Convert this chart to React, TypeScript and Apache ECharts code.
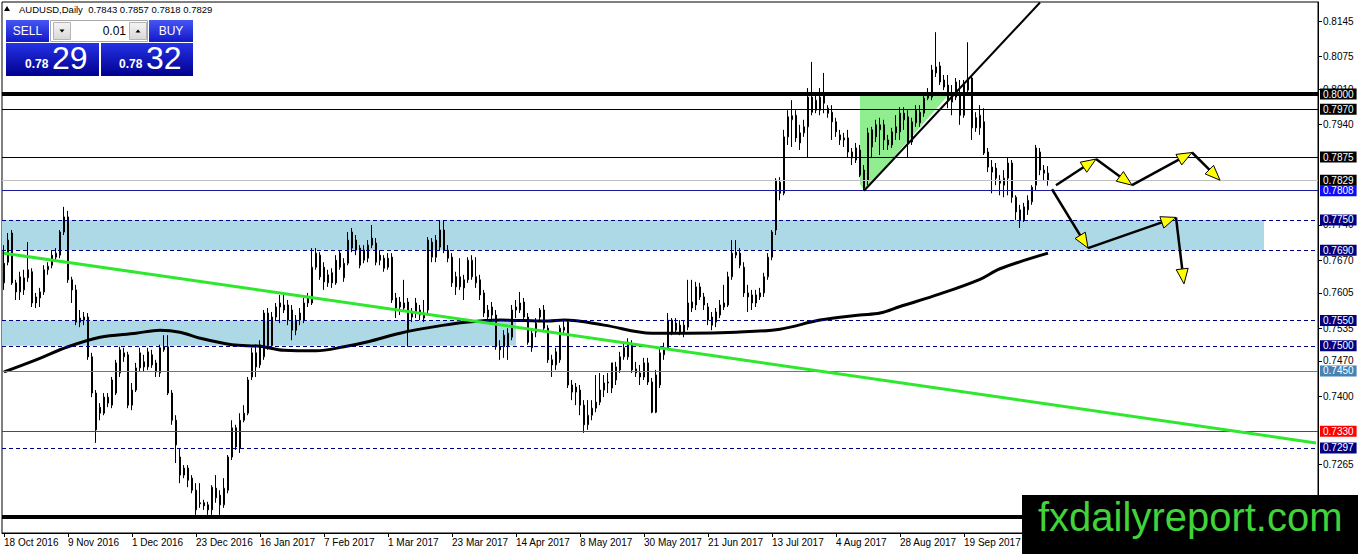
import React, { useEffect, useRef } from "react";
import * as echarts from "echarts";

// ---------- text ----------
const SYMBOL_TEXT = "AUDUSD,Daily";
const LAST_OHLC = ["0.7843", "0.7857", "0.7818", "0.7829"];
const PRICE_PREFIX = "0.78";
const BID_PIPS = "29";
const ASK_PIPS = "32";
const LOT_SIZE = "0.01";
const WATERMARK = "fxdailyreport.com";

// ---------- calendar ----------
const MONTHS = ["Jan", "Feb", "Mar", "Apr", "May", "Jun", "Jul", "Aug", "Sep", "Oct", "Nov", "Dec"];
const FIRST_BAR = [2016, 9, 18];
const TOTAL_SLOTS = 329; // trading days incl. empty space to the right
const DATE_TICK_STEP = 16;
const LAST_DATE_TICK = 240;

// ---------- candles: [open, close, low, high] ----------
const candles: number[][] = [
  [0.7664, 0.7625, 0.7611, 0.7700], [0.7666, 0.7710, 0.7660, 0.7724], [0.7724, 0.7625, 0.7621, 0.7730], [0.7625, 0.7607, 0.7591, 0.7631],
  [0.7607, 0.7637, 0.7591, 0.7647], [0.7611, 0.7635, 0.7601, 0.7651], [0.7635, 0.7651, 0.7627, 0.7706], [0.7647, 0.7585, 0.7577, 0.7654],
  [0.7597, 0.7585, 0.7575, 0.7605], [0.7595, 0.7607, 0.7577, 0.7615], [0.7607, 0.7651, 0.7601, 0.7660], [0.7651, 0.7658, 0.7641, 0.7666],
  [0.7660, 0.7680, 0.7654, 0.7690], [0.7676, 0.7684, 0.7670, 0.7694], [0.7680, 0.7726, 0.7674, 0.7730], [0.7726, 0.7756, 0.7720, 0.7776],
  [0.7756, 0.7631, 0.7625, 0.7768], [0.7631, 0.7611, 0.7585, 0.7637], [0.7611, 0.7547, 0.7541, 0.7621], [0.7547, 0.7555, 0.7537, 0.7571],
  [0.7557, 0.7551, 0.7541, 0.7567], [0.7557, 0.7478, 0.7472, 0.7565], [0.7478, 0.7406, 0.7398, 0.7486], [0.7406, 0.7333, 0.7307, 0.7412],
  [0.7366, 0.7378, 0.7352, 0.7386], [0.7366, 0.7398, 0.7362, 0.7406], [0.7386, 0.7398, 0.7378, 0.7406], [0.7382, 0.7432, 0.7376, 0.7438],
  [0.7406, 0.7466, 0.7402, 0.7472], [0.7446, 0.7492, 0.7438, 0.7498], [0.7478, 0.7486, 0.7468, 0.7496], [0.7482, 0.7382, 0.7376, 0.7488],
  [0.7382, 0.7412, 0.7372, 0.7426], [0.7412, 0.7456, 0.7408, 0.7466], [0.7456, 0.7486, 0.7448, 0.7496], [0.7468, 0.7458, 0.7448, 0.7482],
  [0.7458, 0.7488, 0.7452, 0.7496], [0.7482, 0.7462, 0.7456, 0.7492], [0.7466, 0.7448, 0.7438, 0.7472], [0.7446, 0.7496, 0.7438, 0.7502],
  [0.7492, 0.7498, 0.7488, 0.7521], [0.7498, 0.7406, 0.7402, 0.7521], [0.7406, 0.7352, 0.7343, 0.7412], [0.7352, 0.7303, 0.7267, 0.7362],
  [0.7279, 0.7243, 0.7227, 0.7297], [0.7243, 0.7257, 0.7237, 0.7263], [0.7257, 0.7233, 0.7219, 0.7263], [0.7237, 0.7213, 0.7207, 0.7243],
  [0.7213, 0.7174, 0.7164, 0.7227], [0.7188, 0.7186, 0.7178, 0.7227], [0.7188, 0.7182, 0.7174, 0.7194], [0.7184, 0.7174, 0.7164, 0.7190],
  [0.7174, 0.7219, 0.7164, 0.7223], [0.7217, 0.7198, 0.7188, 0.7243], [0.7203, 0.7184, 0.7164, 0.7213], [0.7184, 0.7217, 0.7178, 0.7237],
  [0.7213, 0.7279, 0.7207, 0.7283], [0.7279, 0.7337, 0.7273, 0.7352], [0.7337, 0.7299, 0.7293, 0.7343], [0.7297, 0.7352, 0.7287, 0.7366],
  [0.7352, 0.7366, 0.7348, 0.7382], [0.7366, 0.7432, 0.7362, 0.7438], [0.7438, 0.7486, 0.7432, 0.7496], [0.7486, 0.7458, 0.7438, 0.7502],
  [0.7462, 0.7502, 0.7456, 0.7511], [0.7478, 0.7565, 0.7472, 0.7571], [0.7565, 0.7500, 0.7492, 0.7575], [0.7500, 0.7557, 0.7492, 0.7567],
  [0.7557, 0.7577, 0.7551, 0.7585], [0.7577, 0.7585, 0.7545, 0.7601], [0.7571, 0.7581, 0.7565, 0.7601], [0.7581, 0.7551, 0.7541, 0.7591],
  [0.7571, 0.7531, 0.7511, 0.7581], [0.7551, 0.7531, 0.7521, 0.7561], [0.7551, 0.7565, 0.7541, 0.7575], [0.7551, 0.7585, 0.7545, 0.7595],
  [0.7585, 0.7597, 0.7577, 0.7605], [0.7585, 0.7656, 0.7581, 0.7694], [0.7656, 0.7684, 0.7651, 0.7694], [0.7680, 0.7637, 0.7631, 0.7686],
  [0.7656, 0.7627, 0.7611, 0.7666], [0.7625, 0.7641, 0.7617, 0.7651], [0.7645, 0.7625, 0.7615, 0.7654], [0.7625, 0.7670, 0.7621, 0.7680],
  [0.7656, 0.7684, 0.7651, 0.7690], [0.7635, 0.7664, 0.7627, 0.7674], [0.7664, 0.7710, 0.7660, 0.7726], [0.7694, 0.7726, 0.7686, 0.7734],
  [0.7710, 0.7690, 0.7680, 0.7720], [0.7694, 0.7660, 0.7654, 0.7700], [0.7670, 0.7690, 0.7664, 0.7700], [0.7674, 0.7700, 0.7666, 0.7710],
  [0.7700, 0.7714, 0.7694, 0.7740], [0.7704, 0.7666, 0.7660, 0.7714], [0.7680, 0.7670, 0.7660, 0.7690], [0.7674, 0.7654, 0.7647, 0.7680],
  [0.7656, 0.7674, 0.7651, 0.7684], [0.7676, 0.7591, 0.7585, 0.7684], [0.7595, 0.7575, 0.7555, 0.7605], [0.7587, 0.7577, 0.7561, 0.7597],
  [0.7575, 0.7585, 0.7567, 0.7631], [0.7587, 0.7531, 0.7498, 0.7595], [0.7557, 0.7565, 0.7547, 0.7575], [0.7565, 0.7585, 0.7555, 0.7595],
  [0.7561, 0.7571, 0.7551, 0.7581], [0.7555, 0.7565, 0.7547, 0.7591], [0.7571, 0.7710, 0.7565, 0.7716], [0.7676, 0.7706, 0.7666, 0.7714],
  [0.7710, 0.7676, 0.7666, 0.7720], [0.7696, 0.7730, 0.7690, 0.7748], [0.7730, 0.7690, 0.7684, 0.7748], [0.7690, 0.7674, 0.7666, 0.7700],
  [0.7676, 0.7625, 0.7617, 0.7684], [0.7637, 0.7617, 0.7601, 0.7647], [0.7617, 0.7637, 0.7611, 0.7674], [0.7631, 0.7615, 0.7591, 0.7641],
  [0.7631, 0.7670, 0.7625, 0.7676], [0.7637, 0.7670, 0.7631, 0.7680], [0.7637, 0.7625, 0.7615, 0.7676], [0.7631, 0.7601, 0.7591, 0.7641],
  [0.7605, 0.7565, 0.7557, 0.7611], [0.7571, 0.7557, 0.7547, 0.7581], [0.7561, 0.7577, 0.7551, 0.7587], [0.7561, 0.7498, 0.7492, 0.7571],
  [0.7498, 0.7492, 0.7472, 0.7511], [0.7498, 0.7521, 0.7476, 0.7531], [0.7498, 0.7525, 0.7472, 0.7535], [0.7517, 0.7571, 0.7511, 0.7581],
  [0.7571, 0.7577, 0.7555, 0.7591], [0.7571, 0.7585, 0.7565, 0.7607], [0.7587, 0.7557, 0.7547, 0.7595], [0.7557, 0.7507, 0.7502, 0.7565],
  [0.7496, 0.7525, 0.7488, 0.7535], [0.7527, 0.7545, 0.7517, 0.7555], [0.7557, 0.7571, 0.7551, 0.7575], [0.7571, 0.7535, 0.7527, 0.7581],
  [0.7535, 0.7472, 0.7466, 0.7541], [0.7472, 0.7462, 0.7438, 0.7482], [0.7462, 0.7488, 0.7452, 0.7496], [0.7472, 0.7535, 0.7466, 0.7541],
  [0.7531, 0.7537, 0.7521, 0.7551], [0.7547, 0.7422, 0.7416, 0.7553], [0.7422, 0.7408, 0.7392, 0.7432], [0.7408, 0.7418, 0.7382, 0.7426],
  [0.7412, 0.7382, 0.7362, 0.7422], [0.7382, 0.7343, 0.7327, 0.7392], [0.7343, 0.7362, 0.7333, 0.7392], [0.7362, 0.7376, 0.7352, 0.7392],
  [0.7376, 0.7388, 0.7368, 0.7442], [0.7388, 0.7412, 0.7382, 0.7446], [0.7412, 0.7426, 0.7398, 0.7442], [0.7426, 0.7428, 0.7406, 0.7446],
  [0.7416, 0.7466, 0.7406, 0.7466], [0.7432, 0.7458, 0.7422, 0.7468], [0.7452, 0.7478, 0.7446, 0.7488], [0.7478, 0.7496, 0.7472, 0.7506],
  [0.7478, 0.7507, 0.7472, 0.7515], [0.7502, 0.7452, 0.7446, 0.7511], [0.7454, 0.7446, 0.7438, 0.7468], [0.7446, 0.7438, 0.7422, 0.7462],
  [0.7438, 0.7466, 0.7432, 0.7476], [0.7466, 0.7428, 0.7422, 0.7476], [0.7428, 0.7368, 0.7366, 0.7436], [0.7368, 0.7442, 0.7366, 0.7452],
  [0.7422, 0.7486, 0.7416, 0.7496], [0.7482, 0.7496, 0.7472, 0.7506], [0.7496, 0.7551, 0.7492, 0.7565], [0.7527, 0.7551, 0.7521, 0.7555],
  [0.7545, 0.7531, 0.7525, 0.7555], [0.7541, 0.7527, 0.7521, 0.7551], [0.7525, 0.7541, 0.7517, 0.7551], [0.7537, 0.7585, 0.7531, 0.7631],
  [0.7587, 0.7575, 0.7567, 0.7631], [0.7581, 0.7617, 0.7571, 0.7627], [0.7617, 0.7597, 0.7591, 0.7625], [0.7597, 0.7581, 0.7571, 0.7605],
  [0.7577, 0.7551, 0.7541, 0.7585], [0.7557, 0.7541, 0.7531, 0.7567], [0.7547, 0.7567, 0.7537, 0.7575], [0.7561, 0.7581, 0.7555, 0.7591],
  [0.7577, 0.7585, 0.7571, 0.7621], [0.7581, 0.7637, 0.7577, 0.7647], [0.7637, 0.7684, 0.7631, 0.7710], [0.7680, 0.7686, 0.7674, 0.7710],
  [0.7684, 0.7660, 0.7654, 0.7694], [0.7656, 0.7605, 0.7597, 0.7666], [0.7605, 0.7597, 0.7567, 0.7621], [0.7601, 0.7585, 0.7571, 0.7611],
  [0.7585, 0.7601, 0.7577, 0.7611], [0.7597, 0.7605, 0.7591, 0.7615], [0.7605, 0.7637, 0.7597, 0.7645], [0.7637, 0.7676, 0.7631, 0.7684],
  [0.7676, 0.7726, 0.7670, 0.7730], [0.7730, 0.7829, 0.7720, 0.7833], [0.7825, 0.7803, 0.7789, 0.7835], [0.7803, 0.7915, 0.7799, 0.7929],
  [0.7915, 0.7955, 0.7899, 0.7968], [0.7949, 0.7957, 0.7895, 0.7988], [0.7958, 0.7913, 0.7905, 0.7968], [0.7903, 0.7923, 0.7889, 0.7939],
  [0.7923, 0.7935, 0.7915, 0.7949], [0.7935, 0.7994, 0.7875, 0.8012], [0.7994, 0.7964, 0.7958, 0.8064], [0.7968, 0.7988, 0.7962, 0.7998],
  [0.7968, 0.7994, 0.7958, 0.8012], [0.7998, 0.7982, 0.7962, 0.8042], [0.7972, 0.7962, 0.7953, 0.7978], [0.7964, 0.7945, 0.7909, 0.7978],
  [0.7945, 0.7925, 0.7915, 0.7953], [0.7919, 0.7909, 0.7899, 0.7929], [0.7909, 0.7913, 0.7895, 0.7923], [0.7913, 0.7885, 0.7875, 0.7929],
  [0.7885, 0.7873, 0.7859, 0.7893], [0.7869, 0.7893, 0.7863, 0.7903], [0.7889, 0.7839, 0.7835, 0.7899], [0.7849, 0.7813, 0.7808, 0.7859],
  [0.7829, 0.7923, 0.7819, 0.7933], [0.7895, 0.7929, 0.7875, 0.7935], [0.7915, 0.7939, 0.7905, 0.7949], [0.7929, 0.7939, 0.7879, 0.7953],
  [0.7939, 0.7909, 0.7889, 0.7949], [0.7909, 0.7899, 0.7889, 0.7919], [0.7899, 0.7925, 0.7893, 0.7933], [0.7923, 0.7935, 0.7909, 0.7958],
  [0.7925, 0.7962, 0.7909, 0.7974], [0.7962, 0.7949, 0.7929, 0.7974], [0.7903, 0.7955, 0.7873, 0.7968], [0.7905, 0.7945, 0.7899, 0.7953],
  [0.7943, 0.7968, 0.7935, 0.7978], [0.7943, 0.7964, 0.7935, 0.7978], [0.7962, 0.7992, 0.7955, 0.8002], [0.7992, 0.7998, 0.7988, 0.8012],
  [0.7994, 0.8048, 0.7988, 0.8058], [0.8042, 0.8054, 0.8034, 0.8123], [0.8056, 0.8024, 0.8018, 0.8064], [0.8028, 0.8014, 0.8008, 0.8038],
  [0.8018, 0.7988, 0.7972, 0.8038], [0.7984, 0.7998, 0.7958, 0.8018], [0.8024, 0.7994, 0.7988, 0.8032], [0.8002, 0.7958, 0.7939, 0.8028],
  [0.7958, 0.8022, 0.7953, 0.8028], [0.8008, 0.8032, 0.7998, 0.8103], [0.8032, 0.7933, 0.7909, 0.8038], [0.7953, 0.7933, 0.7925, 0.7964],
  [0.7933, 0.7958, 0.7919, 0.7978], [0.7945, 0.7883, 0.7879, 0.7972], [0.7885, 0.7855, 0.7845, 0.7893], [0.7845, 0.7855, 0.7803, 0.7869],
  [0.7853, 0.7833, 0.7819, 0.7863], [0.7829, 0.7823, 0.7799, 0.7839], [0.7819, 0.7833, 0.7795, 0.7849], [0.7833, 0.7863, 0.7799, 0.7873],
  [0.7863, 0.7795, 0.7784, 0.7869], [0.7795, 0.7766, 0.7750, 0.7799], [0.7770, 0.7750, 0.7734, 0.7780], [0.7750, 0.7776, 0.7746, 0.7784],
  [0.7770, 0.7789, 0.7760, 0.7799], [0.7786, 0.7815, 0.7780, 0.7819], [0.7819, 0.7893, 0.7809, 0.7899], [0.7885, 0.7849, 0.7839, 0.7893],
  [0.7849, 0.7843, 0.7829, 0.7859], [0.7843, 0.7829, 0.7818, 0.7857],
];

// ---------- price axis ticks ----------
const priceTicks = [0.8145, 0.8075, 0.8010, 0.7940, 0.7740, 0.7670, 0.7605, 0.7535, 0.7470, 0.7400, 0.7265];
const Y_MIN = 0.7128;
const Y_MAX = 0.8183;

// ---------- moving average (read at points) ----------
const maIndex = [0, 8, 16, 24, 33, 39, 44, 49, 57, 64, 70, 78, 85, 91, 99, 107, 116, 124, 136, 140, 150, 162, 171, 183, 194, 204, 214, 219, 224, 234, 244, 249, 261];
const maValue = [0.7448, 0.7472, 0.7498, 0.7517, 0.7525, 0.7531, 0.7527, 0.7515, 0.7502, 0.7499, 0.7491, 0.7490, 0.7498, 0.7508, 0.7525, 0.7537, 0.7547, 0.7551, 0.7549, 0.7551, 0.7541, 0.7525, 0.7525, 0.7527, 0.7533, 0.7551, 0.7561, 0.7565, 0.7578, 0.7603, 0.7632, 0.7653, 0.7684];

// ---------- horizontal levels ----------
const levelPrices = [0.8000, 0.7970, 0.7875, 0.7829, 0.7808, 0.7750, 0.7690, 0.7550, 0.7500, 0.7450, 0.7330, 0.7297, 0.7160];
const levelKinds = ["thick", "solid", "solid", "bid", "blue", "dash", "dash", "dash", "dash", "steel", "red", "dash", "base"];

// ---------- zones ----------
const zoneStart = [0, 0];
const zoneEnd = [315, 128];
const zoneTop = [0.7750, 0.7550];
const zoneBottom = [0.7690, 0.7500];

// ---------- wedge (green) ----------
const wedgeIndex = [214, 236, 215, 214];
const wedgePrice = [0.7997, 0.7997, 0.7808, 0.7822];

// ---------- trend lines ----------
const trendFromIndex = [215, 0];
const trendFromPrice = [0.7808, 0.7684];
const trendToIndex = [259, 328];
const trendToPrice = [0.8182, 0.7307];

// ---------- projected paths (arrows) ----------
const upperPathIndex = [263, 273, 282, 297, 304];
const upperPathPrice = [0.7819, 0.7871, 0.7819, 0.7884, 0.7829];
const lowerPathIndex = [262, 271, 293, 295];
const lowerPathPrice = [0.7811, 0.7694, 0.7755, 0.7623];

const FONT = "Liberation Sans";

function buildDays(): string[] {
  const out: string[] = [];
  let t = Date.UTC(FIRST_BAR[0], FIRST_BAR[1], FIRST_BAR[2]);
  while (out.length < TOTAL_SLOTS) {
    const d = new Date(t);
    const wd = d.getUTCDay();
    if (wd !== 0 && wd !== 6) out.push(`${d.getUTCDate()} ${MONTHS[d.getUTCMonth()]} ${d.getUTCFullYear()}`);
    t += 86400000;
  }
  return out;
}

const LEVEL_STYLE: Record<string, any> = {
  thick: { line: { color: "#000", width: 4, type: "solid" }, box: "#000" },
  solid: { line: { color: "#000", width: 1, type: "solid" }, box: "#000" },
  bid: { line: { color: "#c0c0c0", width: 1, type: "solid" }, box: "#000" },
  blue: { line: { color: "#1c1c9c", width: 1, type: "solid" }, box: "#0a0aff" },
  dash: { line: { color: "#000080", width: 1, type: [4, 3] }, box: "#000080" },
  steel: { line: { color: "#4682b4", width: 1, type: "solid" }, box: "#4682b4" },
  red: { line: { color: "#ff0000", width: 1, type: "solid" }, box: "#ff0000" },
  base: { line: { color: "#000", width: 4, type: "solid" }, box: null },
};

const TREND_STYLE = [
  { stroke: "#000", lineWidth: 2 },
  { stroke: "#2ee82e", lineWidth: 3 },
];

function buildSegments(idx: number[], val: number[]): number[][] {
  const segs: number[][] = [];
  for (let k = 0; k + 1 < idx.length; k++) segs.push([idx[k], val[k], idx[k + 1], val[k + 1]]);
  return segs;
}

export default function App() {
  const ref = useRef<HTMLDivElement | null>(null);

  useEffect(() => {
    if (!ref.current) return;
    const chart = echarts.init(ref.current, null, { renderer: "svg" });
    const days = buildDays();
    const showTick = (i: number) => i % DATE_TICK_STEP === 0 && i <= LAST_DATE_TICK;

    const zoneData = zoneStart.map((s, k) => [s, zoneTop[k], zoneEnd[k], zoneBottom[k]]);
    const trendData = trendFromIndex.map((s, k) => [s, trendFromPrice[k], trendToIndex[k], trendToPrice[k]]);
    const arrowData = [
      ...buildSegments(upperPathIndex, upperPathPrice),
      ...buildSegments(lowerPathIndex, lowerPathPrice),
    ];
    const maData = maIndex.map((i, k) => [i, maValue[k]]);

    const levelData = levelPrices.map((p, k) => {
      const st = LEVEL_STYLE[levelKinds[k]];
      return {
        yAxis: p,
        lineStyle: { ...st.line, opacity: 1 },
        label: st.box
          ? {
              show: true,
              position: "end",
              distance: 2,
              formatter: () => p.toFixed(4),
              backgroundColor: st.box,
              color: "#fff",
              padding: [1, 3, 0, 3],
              fontSize: 10,
              lineHeight: 10,
              fontFamily: FONT,
            }
          : { show: false },
      };
    });

    const renderZone = (_p: any, api: any) => {
      const a = api.coord([api.value(0), api.value(1)]);
      const b = api.coord([api.value(2), api.value(3)]);
      const half = api.size([1, 0])[0] / 2;
      return {
        type: "rect",
        shape: { x: a[0] - half, y: a[1], width: b[0] - a[0] + half, height: b[1] - a[1] },
        style: { fill: "#add8e6" },
      };
    };

    const renderWedge = (_p: any, api: any) => ({
      type: "polygon",
      shape: { points: wedgeIndex.map((x, k) => api.coord([x, wedgePrice[k]])) },
      style: { fill: "#90ee90" },
    });

    const renderTrend = (p: any, api: any) => {
      const a = api.coord([api.value(0), api.value(1)]);
      const b = api.coord([api.value(2), api.value(3)]);
      return {
        type: "line",
        shape: { x1: a[0], y1: a[1], x2: b[0], y2: b[1] },
        style: { ...TREND_STYLE[p.dataIndex], fill: null },
      };
    };

    const renderArrow = (_p: any, api: any) => {
      const a = api.coord([api.value(0), api.value(1)]);
      const b = api.coord([api.value(2), api.value(3)]);
      const dx = b[0] - a[0];
      const dy = b[1] - a[1];
      const len = Math.sqrt(dx * dx + dy * dy) || 1;
      const ux = dx / len;
      const uy = dy / len;
      const L = 15;
      const W = 6;
      const bx = b[0] - ux * L;
      const by = b[1] - uy * L;
      return {
        type: "group",
        children: [
          {
            type: "line",
            shape: { x1: a[0], y1: a[1], x2: bx, y2: by },
            style: { stroke: "#000", lineWidth: 2.5 },
          },
          {
            type: "polygon",
            shape: {
              points: [
                [b[0], b[1]],
                [bx - uy * W, by + ux * W],
                [bx + uy * W, by - ux * W],
              ],
            },
            style: { fill: "#ffff00", stroke: "#000", lineWidth: 1 },
          },
        ],
      };
    };

    const smallGrad = {
      type: "linear", x: 0, y: 0, x2: 0, y2: 1,
      colorStops: [{ offset: 0, color: "#4656f4" }, { offset: 1, color: "#1018c8" }],
    };
    const bigGrad = {
      type: "linear", x: 0, y: 0, x2: 0, y2: 1,
      colorStops: [{ offset: 0, color: "#2532e6" }, { offset: 1, color: "#00008e" }],
    };
    const spinGrad = {
      type: "linear", x: 0, y: 0, x2: 0, y2: 1,
      colorStops: [{ offset: 0, color: "#f4f4f4" }, { offset: 1, color: "#d8d8d8" }],
    };

    const graphics: any[] = [
      // header
      { type: "polygon", z: 20, shape: { points: [[4, 11], [10, 11], [7, 6]] }, style: { fill: "#000" } },
      {
        type: "text", z: 20, x: 19, y: 9,
        style: { text: `${SYMBOL_TEXT}  ${LAST_OHLC.join(" ")}`, font: `9.5px "${FONT}"`, fill: "#000", verticalAlign: "middle", align: "left" },
      },
      // one-click panel
      { type: "rect", z: 20, shape: { x: 6, y: 20, width: 43, height: 22 }, style: { fill: smallGrad } },
      { type: "text", z: 21, x: 27.5, y: 31, style: { text: "SELL", font: `12px "${FONT}"`, fill: "#fff", align: "center", verticalAlign: "middle" } },
      { type: "rect", z: 20, shape: { x: 50.5, y: 20.5, width: 97, height: 21 }, style: { fill: "#fff", stroke: "#a8a8a8", lineWidth: 1 } },
      { type: "rect", z: 21, shape: { x: 53.5, y: 22.5, width: 17, height: 17 }, style: { fill: spinGrad, stroke: "#b4b4b4", lineWidth: 1 } },
      { type: "polygon", z: 22, shape: { points: [[59.5, 29.5], [64.5, 29.5], [62, 32.5]] }, style: { fill: "#000" } },
      { type: "text", z: 21, x: 126, y: 31, style: { text: LOT_SIZE, font: `12px "${FONT}"`, fill: "#000", align: "right", verticalAlign: "middle" } },
      { type: "rect", z: 21, shape: { x: 129.5, y: 22.5, width: 17, height: 17 }, style: { fill: spinGrad, stroke: "#b4b4b4", lineWidth: 1 } },
      { type: "polygon", z: 22, shape: { points: [[135.5, 32.5], [140.5, 32.5], [138, 29.5]] }, style: { fill: "#000" } },
      { type: "rect", z: 20, shape: { x: 149, y: 20, width: 44, height: 22 }, style: { fill: smallGrad } },
      { type: "text", z: 21, x: 171, y: 31, style: { text: "BUY", font: `12px "${FONT}"`, fill: "#fff", align: "center", verticalAlign: "middle" } },
      { type: "rect", z: 20, shape: { x: 6, y: 43, width: 93, height: 33 }, style: { fill: bigGrad } },
      { type: "rect", z: 20, shape: { x: 101, y: 43, width: 92, height: 33 }, style: { fill: bigGrad } },
      { type: "text", z: 21, x: 25, y: 64, style: { text: PRICE_PREFIX, font: `bold 12px "${FONT}"`, fill: "#fff", align: "left", verticalAlign: "middle" } },
      { type: "text", z: 21, x: 52, y: 58, style: { text: BID_PIPS, font: `32px "${FONT}"`, fill: "#fff", align: "left", verticalAlign: "middle" } },
      { type: "text", z: 21, x: 119, y: 64, style: { text: PRICE_PREFIX, font: `bold 12px "${FONT}"`, fill: "#fff", align: "left", verticalAlign: "middle" } },
      { type: "text", z: 21, x: 146, y: 58, style: { text: ASK_PIPS, font: `32px "${FONT}"`, fill: "#fff", align: "left", verticalAlign: "middle" } },
      // watermark
      { type: "rect", z: 30, shape: { x: 1022, y: 495, width: 336, height: 59 }, style: { fill: "#000" } },
      { type: "text", z: 31, x: 1038, y: 517, style: { text: WATERMARK, font: `40px "${FONT}"`, fill: "#41d33a", align: "left", verticalAlign: "middle" } },
    ];

    const option: any = {
      animation: false,
      backgroundColor: "#fff",
      textStyle: { fontFamily: FONT },
      grid: {
        left: 2, top: 2, width: 1316, height: 531,
        show: true, borderColor: "#000", borderWidth: 1, backgroundColor: "#fff",
        outerBoundsMode: "none",
      },
      xAxis: {
        type: "category",
        data: days,
        boundaryGap: true,
        axisLine: { show: true, lineStyle: { color: "#000" } },
        axisTick: { show: true, alignWithLabel: true, length: 4, interval: (i: number) => showTick(i), lineStyle: { color: "#000" } },
        axisLabel: {
          show: true, interval: (i: number) => showTick(i), align: "left", margin: 4,
          color: "#000", fontSize: 10, fontFamily: FONT,
        },
        splitLine: { show: false },
      },
      yAxis: {
        type: "value",
        position: "right",
        min: Y_MIN,
        max: Y_MAX,
        splitLine: { show: false },
        axisLine: { show: true, lineStyle: { color: "#000" } },
        axisTick: { show: true, length: 4, customValues: priceTicks, lineStyle: { color: "#000" } },
        axisLabel: {
          show: true, customValues: priceTicks, margin: 5,
          formatter: (v: number) => v.toFixed(4),
          color: "#000", fontSize: 10, fontFamily: FONT,
        },
      },
      graphic: { elements: graphics },
      series: [
        {
          type: "custom", name: "zones", z: 1, silent: true, clip: true,
          renderItem: renderZone, data: zoneData,
        },
        {
          type: "custom", name: "wedge", z: 1, silent: true, clip: true,
          renderItem: renderWedge, data: [[wedgeIndex[0], wedgePrice[0]]],
        },
        {
          type: "candlestick", name: "AUDUSD", z: 3, silent: true,
          data: candles, barWidth: 2,
          itemStyle: { color: "#fff", color0: "#000", borderColor: "#000", borderColor0: "#000", borderWidth: 1 },
          markLine: {
            silent: true, symbol: ["none", "none"], precision: 4, animation: false,
            emphasis: { disabled: true },
            data: levelData,
          },
        },
        {
          type: "line", name: "MA", z: 4, silent: true,
          data: maData, smooth: 0.35, showSymbol: false, symbol: "none",
          lineStyle: { color: "#000", width: 3 },
        },
        {
          type: "custom", name: "trend", z: 5, silent: true, clip: true,
          renderItem: renderTrend, data: trendData,
        },
        {
          type: "custom", name: "arrows", z: 6, silent: true, clip: true,
          renderItem: renderArrow, data: arrowData,
        },
      ],
    };

    chart.setOption(option);
    return () => chart.dispose();
  }, []);

  return (
    <div
      ref={ref}
      style={{ position: "absolute", left: 0, top: 0, width: 1358, height: 554, background: "#fff" }}
    />
  );
}
